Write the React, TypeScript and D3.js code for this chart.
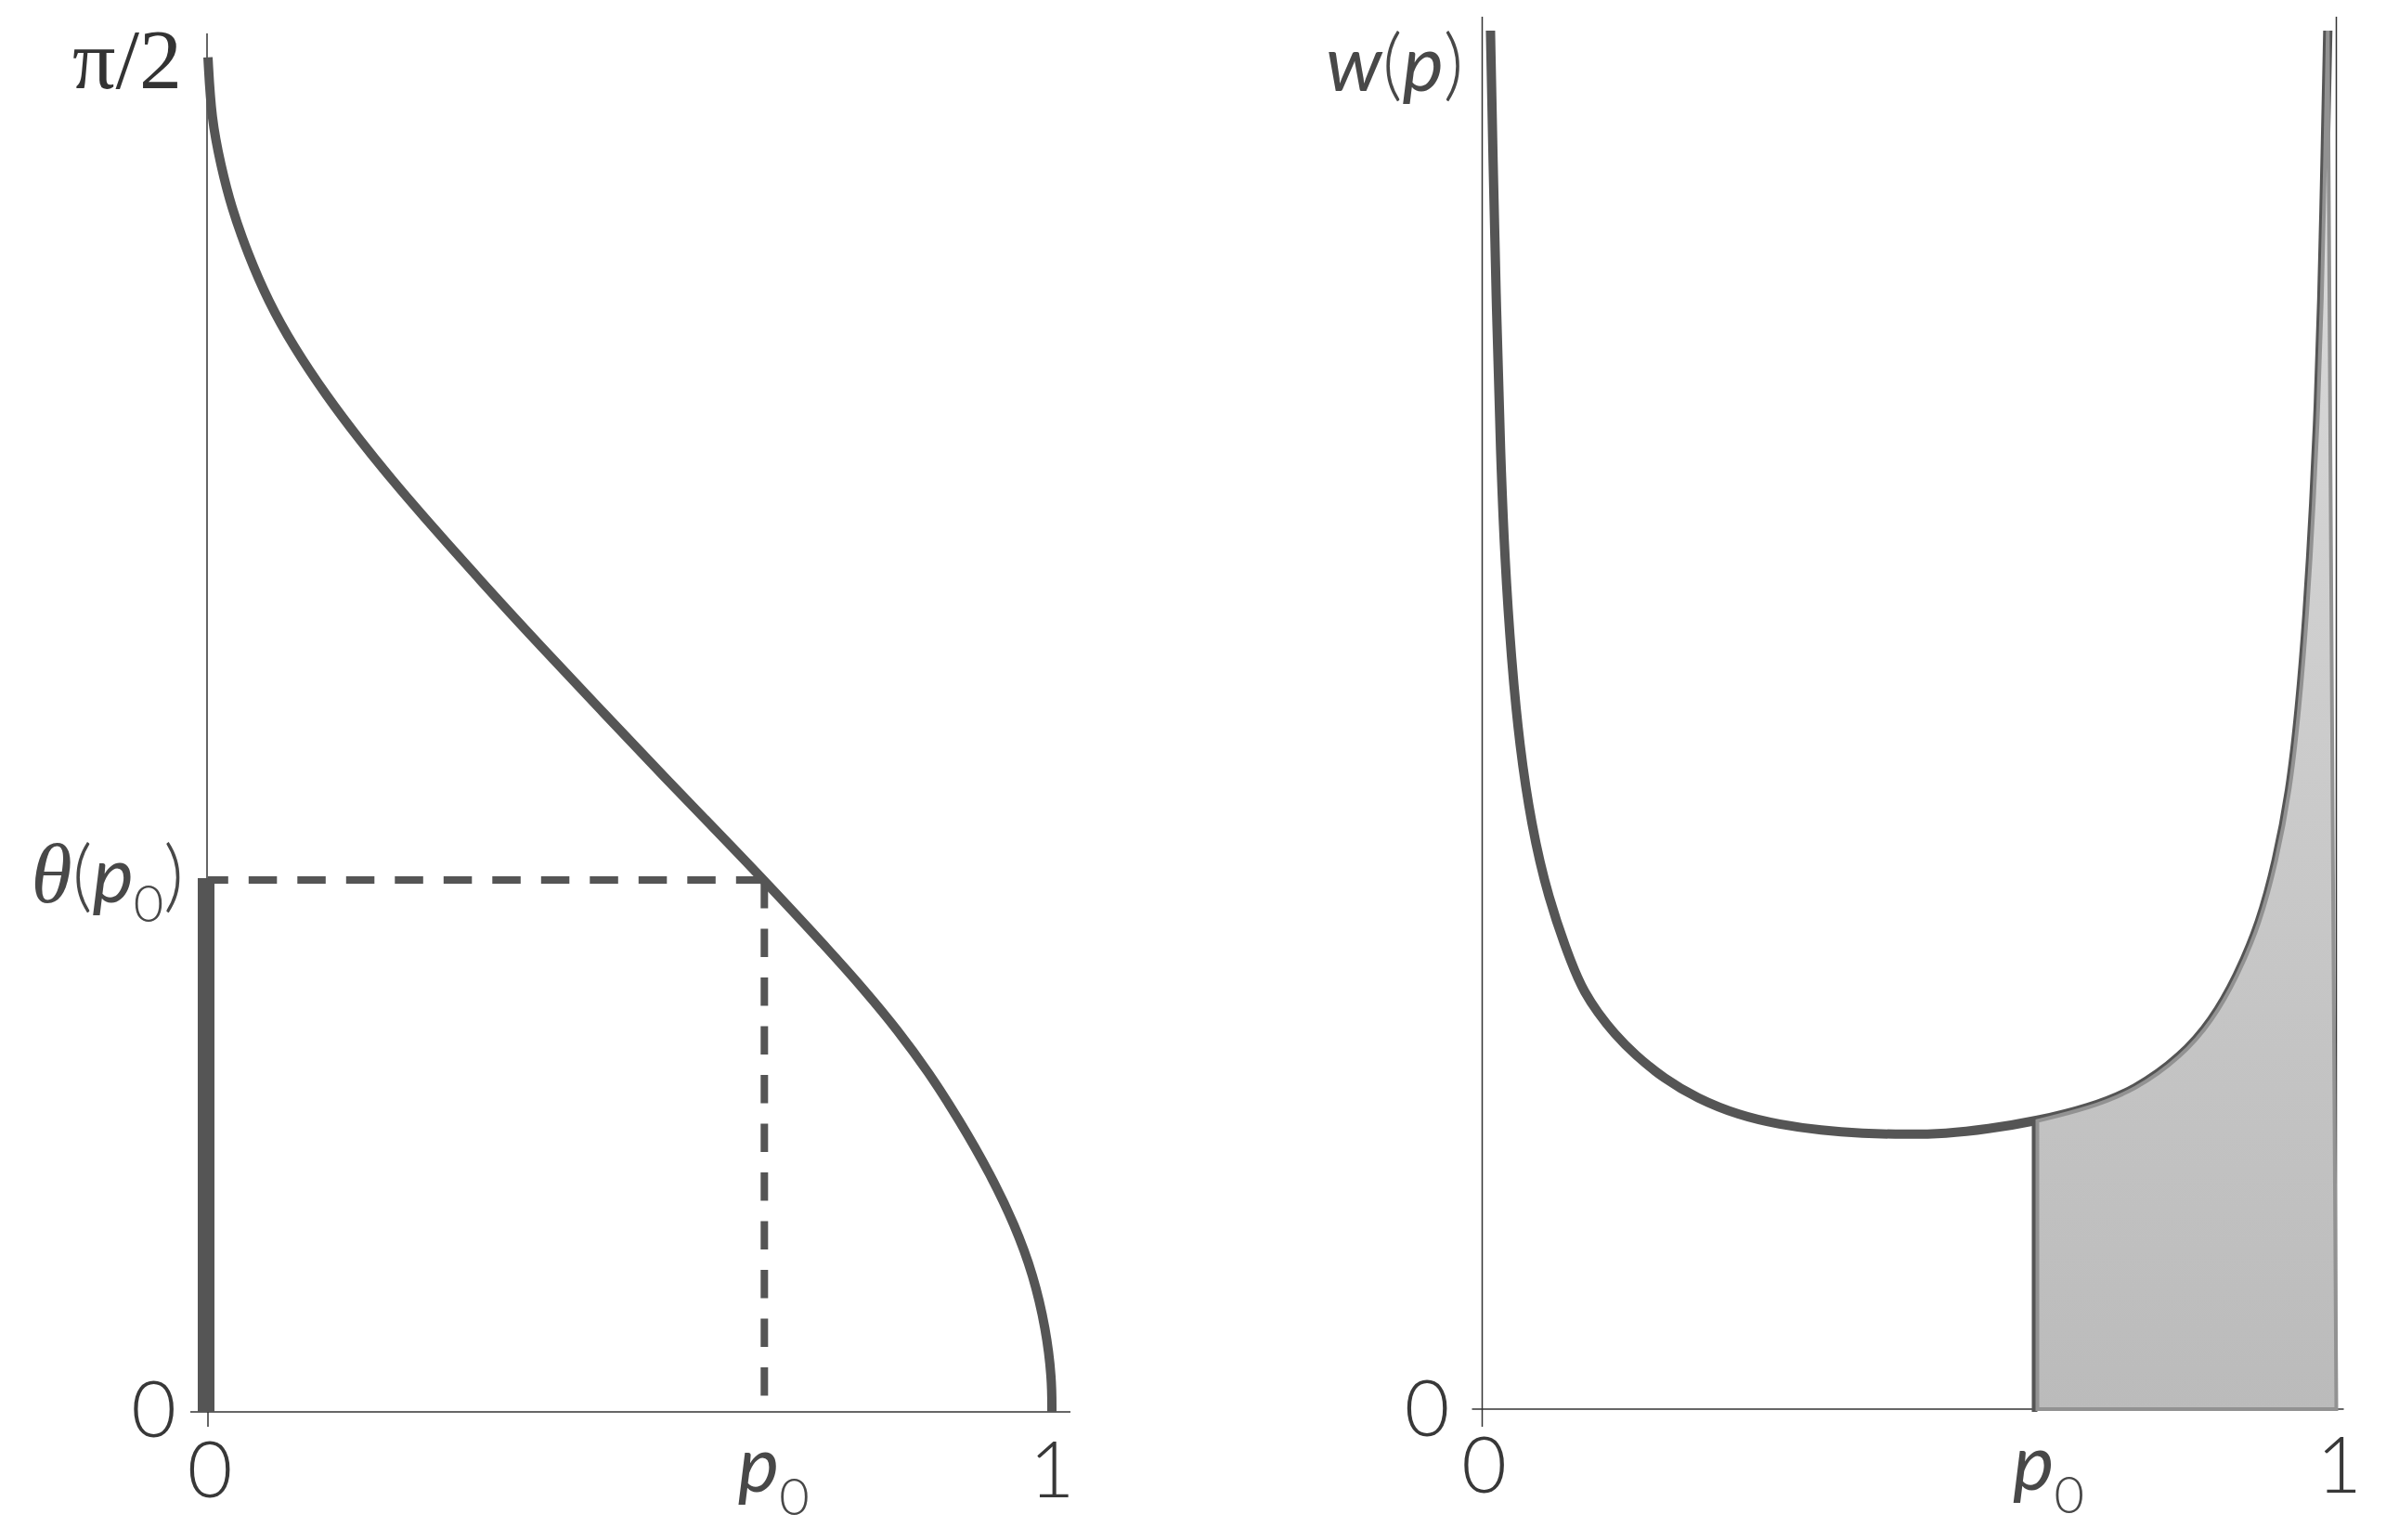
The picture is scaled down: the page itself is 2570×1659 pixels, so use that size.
import React from 'react';
import * as d3 from 'd3';

const W = 2570;
const H = 1659;

// ---- Left panel: theta(p) (theta in radians) ----
const pTheta = [0, 0.004, 0.0154, 0.0275, 0.0473, 0.0715, 0.101, 0.1406, 0.18, 0.219, 0.2505, 0.322, 0.3953, 0.4686, 0.542, 0.6153, 0.6593, 0.7327, 0.78, 0.817, 0.854, 0.89, 0.927, 0.956, 0.978, 0.993, 1.0, 1.0];
const thetaValues = [1.571, 1.5, 1.445, 1.398, 1.343, 1.288, 1.236, 1.178, 1.127, 1.08, 1.044, 0.965, 0.887, 0.811, 0.735, 0.661, 0.616, 0.539, 0.487, 0.443, 0.394, 0.339, 0.276, 0.217, 0.159, 0.096, 0.039, 0];

// ---- Right panel: w(p) ----
const pW = [0.0097, 0.0125, 0.0166, 0.0216, 0.0263, 0.0341, 0.0438, 0.0574, 0.0766, 0.106, 0.12, 0.135, 0.1545, 0.179, 0.2125, 0.2516, 0.3, 0.348, 0.397, 0.445, 0.494, 0.543, 0.591, 0.65, 0.71, 0.765, 0.819, 0.855, 0.884, 0.911, 0.93, 0.946, 0.957, 0.966, 0.974, 0.979, 0.983, 0.987, 0.99];
const wValues = [9.9, 9.01, 7.91, 6.83, 6.12, 5.38, 4.76, 4.2, 3.68, 3.17, 2.99, 2.85, 2.697, 2.543, 2.375, 2.231, 2.111, 2.043, 2.001, 1.98, 1.972, 1.978, 2.01, 2.07, 2.16, 2.29, 2.53, 2.787, 3.1, 3.49, 3.93, 4.43, 5.03, 5.7, 6.53, 7.2, 7.91, 9.01, 9.9];

const p0Left = 0.6593;
const theta0 = 0.617;
const p0Right = 0.65;
const thetaMax = Math.PI / 2;
const wMax = 10;

const SANS = "Lato, 'Open Sans', 'DejaVu Sans', sans-serif";
const SERIF = "'Liberation Serif', 'DejaVu Serif', serif";
const DARK = '#555555';
const AXIS = '#333333';
const TEXT = '#383838';
const LABEL = '#484848';

export default function App() {
  const xL = d3.scaleLinear().domain([0, 1]).range([224, 1133]);
  const yL = d3.scaleLinear().domain([0, thetaMax]).range([1521, 62]);
  const xR = d3.scaleLinear().domain([0, 1]).range([1596.5, 2516.5]);
  const yR = d3.scaleLinear().domain([0, wMax]).range([1518, 18]);

  const leftPts: [number, number][] = pTheta.map((p, i) => [p, thetaValues[i]]);
  const rightPts: [number, number][] = pW.map((p, i) => [p, wValues[i]]);

  const lineL = d3
    .line<[number, number]>()
    .x((d) => xL(d[0]))
    .y((d) => yL(d[1]))
    .curve(d3.curveBasis);
  const lineR = d3
    .line<[number, number]>()
    .x((d) => xR(d[0]))
    .y((d) => yR(d[1]))
    .curve(d3.curveBasis);

  const shadePts = rightPts.filter((d) => d[0] >= p0Right);
  const shadeTop = lineR(shadePts) || '';
  const shadePath = `${shadeTop}L${xR(1)},${yR(0)}L${xR(p0Right)},${yR(0)}Z`;
  const wAtP0 = shadePts[0][1];

  const tickFont = 84;
  const subFont = 56;

  return (
    <svg
      width={W}
      height={H}
      viewBox={`0 0 ${W} ${H}`}
      style={{ position: 'absolute', left: 0, top: 0, background: '#ffffff' }}
    >
      <defs>
        <linearGradient id="shade" gradientUnits="userSpaceOnUse" x1="0" y1={yR(wMax)} x2="0" y2={yR(0)}>
          <stop offset="0" stopColor="#dedede" />
          <stop offset="1" stopColor="#bbbbbb" />
        </linearGradient>
      </defs>
      <rect x={0} y={0} width={W} height={H} fill="#ffffff" />

      {/* ================= LEFT PANEL ================= */}
      <line x1={xL(0) - 1} y1={yL(0)} x2={xL(0) - 1} y2={yL(thetaMax) - 26} stroke={AXIS} strokeWidth={1.5} />
      <line x1={xL(0) - 19} y1={yL(0)} x2={xL(1) + 20} y2={yL(0)} stroke={AXIS} strokeWidth={1.5} />
      <line x1={xL(0)} y1={yL(0)} x2={xL(0)} y2={yL(0) + 16} stroke={AXIS} strokeWidth={1.5} />

      <line x1={xL(0) - 2} y1={yL(0)} x2={xL(0) - 2} y2={yL(theta0) - 2} stroke={DARK} strokeWidth={18} />

      <line x1={xL(p0Left)} y1={yL(theta0)} x2={xL(0)} y2={yL(theta0)} stroke={DARK} strokeWidth={8} strokeDasharray="30.5 22" />
      <line x1={xL(p0Left)} y1={yL(theta0)} x2={xL(p0Left)} y2={yL(0)} stroke={DARK} strokeWidth={8} strokeDasharray="30.5 22" />

      <path d={lineL(leftPts) || ''} fill="none" stroke={DARK} strokeWidth={10} strokeLinecap="butt" />

      <text x={xL(0) - 28} y={95} textAnchor="end" fontFamily={SERIF} fontSize={92} fill="#333333">
        π/2
      </text>
      <text x={xL(0) - 26} y={yL(theta0) + 24} textAnchor="end" fill={LABEL}>
        <tspan fontFamily={SERIF} fontStyle="italic" fontSize={90}>θ</tspan>
        <tspan fontFamily={SANS} fontWeight={300} fontSize={tickFont}>(</tspan>
        <tspan fontFamily={SANS} fontWeight={400} fontStyle="italic" fontSize={tickFont}>p</tspan>
        <tspan fontFamily={SANS} fontWeight={300} fontSize={subFont} dy={21}>0</tspan>
        <tspan fontFamily={SANS} fontWeight={300} fontSize={tickFont} dy={-21}>)</tspan>
      </text>
      <text x={xL(0) - 34} y={yL(0) + 27} textAnchor="end" fontFamily={SANS} fontWeight={300} fontSize={tickFont} fill={TEXT}>
        0
      </text>
      <text x={xL(0) + 2} y={yL(0) + 92} textAnchor="middle" fontFamily={SANS} fontWeight={300} fontSize={tickFont} fill={TEXT}>
        0
      </text>
      <text x={xL(1)} y={yL(0) + 92} textAnchor="middle" fontFamily={SANS} fontWeight={300} fontSize={tickFont} fill={TEXT}>
        1
      </text>
      <text x={xL(p0Left) + 10} y={yL(0) + 86} textAnchor="middle" fontFamily={SANS} fill={LABEL}>
        <tspan fontStyle="italic" fontWeight={400} fontSize={tickFont}>p</tspan>
        <tspan fontWeight={300} fontSize={subFont} dy={25}>0</tspan>
      </text>

      {/* ================= RIGHT PANEL ================= */}
      <line x1={xR(0)} y1={yR(0)} x2={xR(0)} y2={yR(wMax)} stroke={AXIS} strokeWidth={1.5} />
      <line x1={xR(1)} y1={yR(0)} x2={xR(1)} y2={yR(wMax)} stroke={AXIS} strokeWidth={1.5} />
      <line x1={xR(0) - 11} y1={yR(0)} x2={xR(1) + 8} y2={yR(0)} stroke={AXIS} strokeWidth={1.5} />
      <line x1={xR(0)} y1={yR(0)} x2={xR(0)} y2={yR(0) + 19} stroke={AXIS} strokeWidth={1.5} />

      <path d={lineR(rightPts) || ''} fill="none" stroke={DARK} strokeWidth={10} strokeLinecap="butt" />
      <line x1={xR(p0Right) - 3} y1={yR(0) + 3} x2={xR(p0Right) - 3} y2={yR(wAtP0)} stroke={DARK} strokeWidth={6} />
      <path d={shadePath} fill="url(#shade)" stroke="#929292" strokeWidth={4} strokeLinejoin="miter" />

      <text x={xR(0) - 20} y={98} textAnchor="end" fill={LABEL} fontFamily={SANS} fontSize={tickFont}>
        <tspan fontStyle="italic" fontWeight={400}>w</tspan>
        <tspan fontWeight={300}>(</tspan>
        <tspan fontStyle="italic" fontWeight={400}>p</tspan>
        <tspan fontWeight={300}>)</tspan>
      </text>
      <text x={xR(0) - 35} y={yR(0) + 29} textAnchor="end" fontFamily={SANS} fontWeight={300} fontSize={tickFont} fill={TEXT}>
        0
      </text>
      <text x={xR(0) + 2} y={yR(0) + 90} textAnchor="middle" fontFamily={SANS} fontWeight={300} fontSize={tickFont} fill={TEXT}>
        0
      </text>
      <text x={xR(1) + 3} y={yR(0) + 90} textAnchor="middle" fontFamily={SANS} fontWeight={300} fontSize={tickFont} fill={TEXT}>
        1
      </text>
      <text x={xR(p0Right) + 12} y={yR(0) + 87} textAnchor="middle" fontFamily={SANS} fill={LABEL}>
        <tspan fontStyle="italic" fontWeight={400} fontSize={tickFont}>p</tspan>
        <tspan fontWeight={300} fontSize={subFont} dy={25}>0</tspan>
      </text>
    </svg>
  );
}
